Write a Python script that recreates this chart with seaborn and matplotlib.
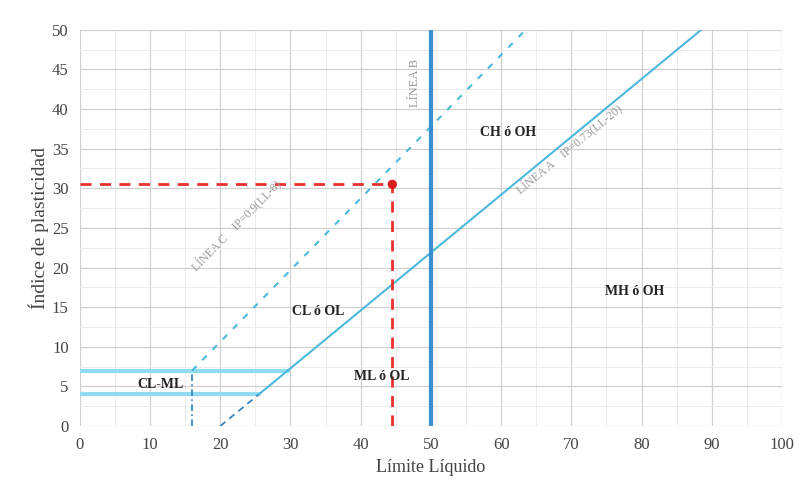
import matplotlib
matplotlib.use("Agg")
import matplotlib.pyplot as plt
import seaborn as sns
import pandas as pd
import numpy as np

# Carta de plasticidad - datos
# Linea A: IP = 0.73(LL-20)
lineaA_ll = [25.5, 88.5]
lineaA_ip = [4.0, 50.0]
lineaA_dash_ll = [20, 25.5]
lineaA_dash_ip = [0, 4.0]
# Linea C (U): IP = 0.9(LL-8)
lineaC_ll = [16, 63.5]
lineaC_ip = [7, 50]
# Linea B: LL = 50
lineaB_ll = [50, 50]
lineaB_ip = [0, 50]
# limites CL-ML
lim7_ll = [0, 29.6]
lim7_ip = [7, 7]
lim4_ll = [0, 25.5]
lim4_ip = [4, 4]
vert16_ll = [16, 16]
vert16_ip = [0, 7]
# muestra
muestra_ll = 44.5
muestra_ip = 30.5

zonas = ["CH ó OH", "MH ó OH", "CL ó OL", "ML ó OL", "CL-ML"]
zonas_x = [61, 79, 34, 43, 11.5]
zonas_y = [37, 17, 14.5, 6.2, 5.3]

sns.set_theme(style="white")
plt.rcParams['font.family'] = ['Liberation Serif', 'DejaVu Serif']

fig = plt.figure(figsize=(7.98, 4.96), dpi=100)
ax = fig.add_axes([0.100, 0.141, 0.880, 0.799])

def linea(xs, ys, **kw):
    df = pd.DataFrame({"LL": xs, "IP": ys})
    sns.lineplot(data=df, x="LL", y="IP", ax=ax, sort=False, estimator=None, **kw)

linea(lim7_ll, lim7_ip, color="#8fdcf0", lw=3)
linea(lim4_ll, lim4_ip, color="#8fdcf0", lw=3)
linea(vert16_ll, vert16_ip, color="#2e7fb8", lw=1.2, linestyle=(0, (4, 2, 1, 2)))
linea(lineaA_dash_ll, lineaA_dash_ip, color="#2e7fb8", lw=1.2, linestyle=(0, (4, 3)))
linea(lineaA_ll, lineaA_ip, color="#4db8dc", lw=1.5)
linea(lineaC_ll, lineaC_ip, color="#4db8dc", lw=1.5, linestyle=(0, (3, 4)))
linea(lineaB_ll, lineaB_ip, color="#3a8fd0", lw=3)

linea([0, muestra_ll], [muestra_ip, muestra_ip], color="#e8312f", lw=2, linestyle=(0, (4, 3)))
linea([muestra_ll, muestra_ll], [0, muestra_ip], color="#e8312f", lw=2, linestyle=(0, (4, 3)))
sns.scatterplot(x=[muestra_ll], y=[muestra_ip], ax=ax, color="#d81e1e", s=45, zorder=5, edgecolor="none")

for t, x, y in zip(zonas, zonas_x, zonas_y):
    ax.text(x, y, t, ha="center", va="center", fontsize=10, fontweight="bold", color="#222222")

ax.text(47.7, 43.3, "LÍNEA B", rotation=90, ha="center", va="center", fontsize=9, color="#999999")
ax.text(69.6, 35.0, "LÍNEA A    IP=0.73(LL-20)", rotation=39.5, ha="center", va="center",
        fontsize=8.5, color="#999999", rotation_mode="anchor")
ax.text(22.3, 25.3, "LÍNEA C    IP=0.9(LL-8)", rotation=45.4, ha="center", va="center",
        fontsize=8.5, color="#999999", rotation_mode="anchor")

ax.set_xlim(0, 100)
ax.set_ylim(0, 50)
ax.set_xticks(np.arange(0, 101, 10))
ax.set_yticks(np.arange(0, 51, 5))
ax.set_xticks(np.arange(0, 101, 5), minor=True)
ax.set_yticks(np.arange(0, 51, 2.5), minor=True)
ax.grid(True, which="major", color="#d0d0d0", lw=0.9)
ax.grid(True, which="minor", color="#ececec", lw=0.7)
ax.set_axisbelow(True)
for s in ax.spines.values():
    s.set_visible(False)
ax.tick_params(axis="both", which="both", length=0, labelsize=12, colors="#444444", pad=8)
ax.set_xlabel("Límite Líquido", fontsize=13, color="#444444", labelpad=4)
ax.set_ylabel("Índice de plasticidad", fontsize=14, color="#444444", labelpad=2)

fig.savefig("out.png", dpi=100)
